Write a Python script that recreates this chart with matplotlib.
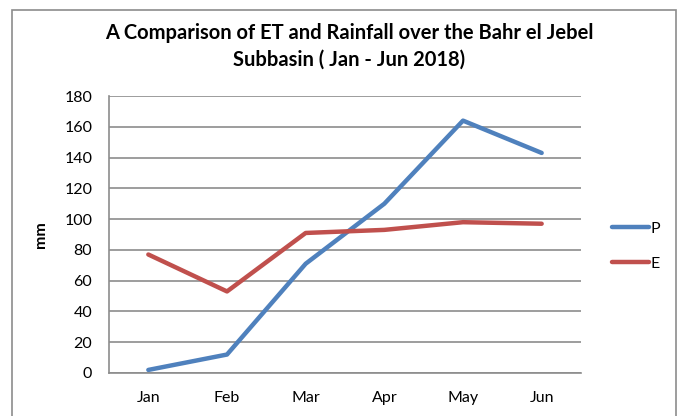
import matplotlib.pyplot as plt
from matplotlib.patches import Rectangle

months = ["Jan", "Feb", "Mar", "Apr", "May", "Jun"]
rain_p = [2, 12, 71, 110, 164, 143]
et_e = [77, 53, 91, 93, 98, 97]
y_ticks = [0, 20, 40, 60, 80, 100, 120, 140, 160, 180]

plt.rcParams['font.family'] = ['Lato', 'DejaVu Sans']

W, H = 681, 416
fig = plt.figure(figsize=(W / 100, H / 100), dpi=100)
fig.patch.set_facecolor("white")

# outer chart frame (bottom edge falls outside the picture)
fig.patches.append(Rectangle((12 / W, -0.02), (676 - 12) / W, 1 - 10 / H + 0.02,
                             transform=fig.transFigure, fill=False,
                             edgecolor="#8c8c8c", linewidth=1.2))

ax = fig.add_axes([109 / W, 1 - 373 / H, (581 - 109) / W, (373 - 96) / H])
x = list(range(len(months)))
ax.plot(x, rain_p, color="#4F81BD", linewidth=3.2, solid_capstyle="round", label="P")
ax.plot(x, et_e, color="#C0504D", linewidth=3.2, solid_capstyle="round", label="E")

ax.set_xlim(-0.5, 5.5)
ax.set_ylim(0, 180)
ax.set_yticks(y_ticks)
ax.set_xticks(x)
ax.set_xticklabels(months)
ax.tick_params(axis="both", length=0, labelsize=11.5, colors="black")
ax.tick_params(axis="x", pad=13)
ax.tick_params(axis="y", pad=12)
ax.grid(axis="y", color="#8c8c8c", linewidth=1.2)
ax.set_axisbelow(True)
for s in ["top", "right"]:
    ax.spines[s].set_visible(False)
for s in ["left", "bottom"]:
    ax.spines[s].set_color("#8c8c8c")
    ax.spines[s].set_linewidth(1.2)

fig.text(41 / W, 1 - 235 / H, "mm", rotation=90, fontsize=11.5, fontweight="bold",
         ha="center", va="center")
fig.text(349 / W, 1 - 46 / H,
         "A Comparison of ET and Rainfall over the Bahr el Jebel\nSubbasin ( Jan - Jun 2018)",
         ha="center", va="center", fontsize=14.5, fontweight="bold", linespacing=1.4)

fig.legend(loc="center left", bbox_to_anchor=(598 / W, 1 - 246 / H), frameon=False,
           fontsize=11.5, handlelength=2.3, handletextpad=0.1, labelspacing=1.3)

fig.savefig("out.png", dpi=100)
